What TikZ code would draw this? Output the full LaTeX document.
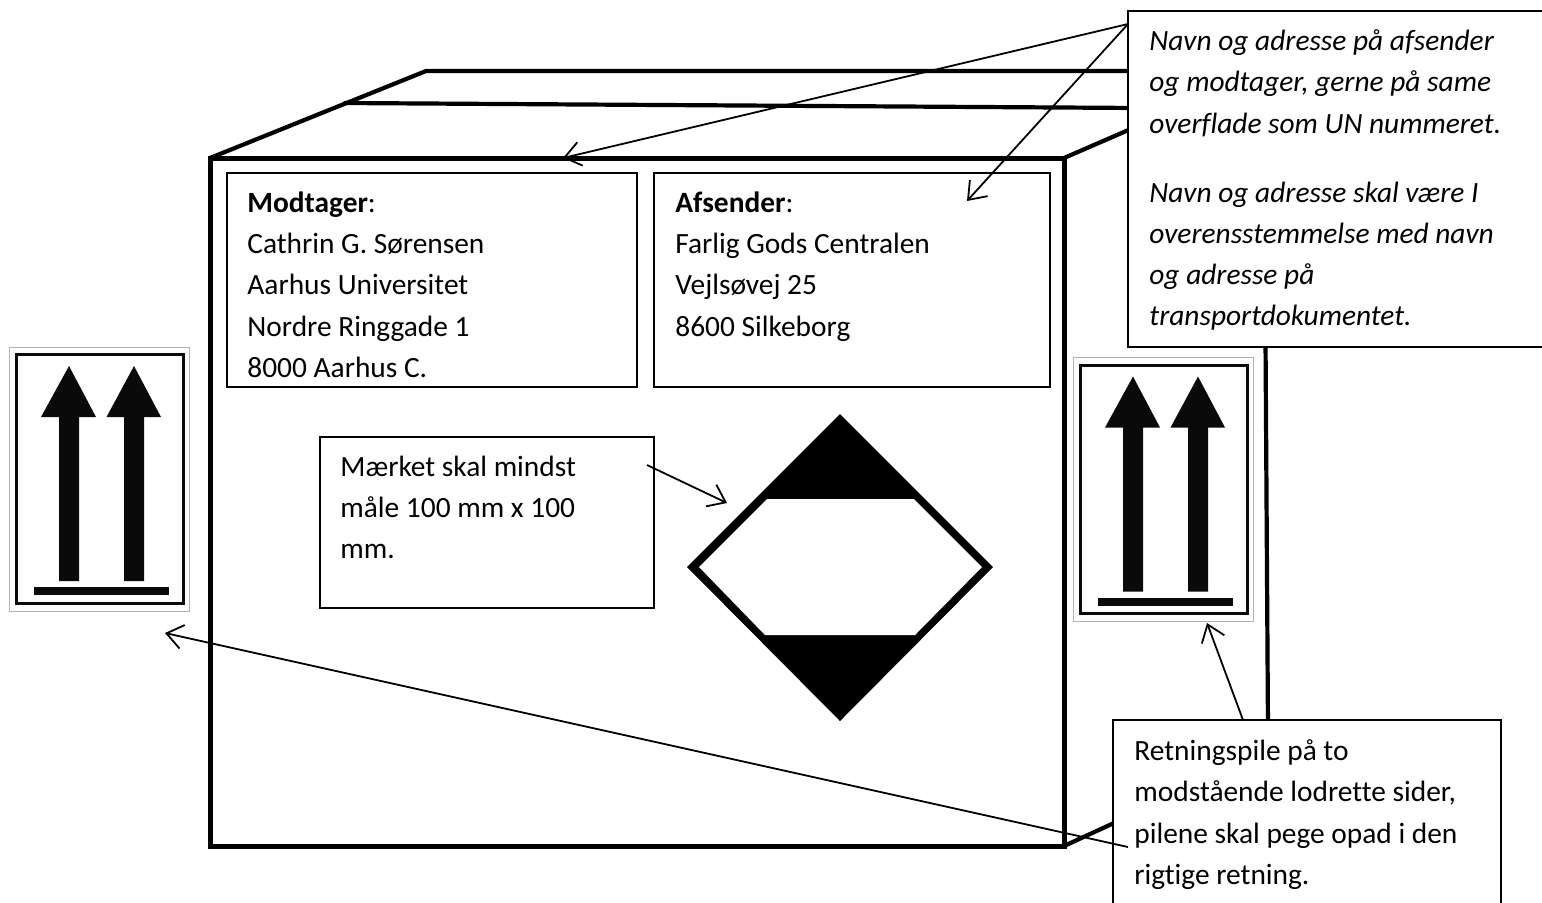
\documentclass[tikz,border=0pt]{standalone}
\usepackage{fontspec}
\setmainfont[Ligatures=NoCommon]{Carlito}
\usetikzlibrary{arrows.meta,fit}
\definecolor{labelink}{HTML}{0A0A0A}
\tikzset{
  x=0.5pt,y=-0.5pt,
  edge3/.style={line width=2.1pt,line cap=round,line join=miter},
  edge5/.style={line width=2.5pt,line join=miter},
  txtbox/.style={draw=black,line width=1pt,fill=white,inner sep=0pt},
  words/.style={anchor=north west,inner sep=0pt,align=left,font=\fontsize{14.7}{20.6}\selectfont},
  pointer/.style={line width=0.9pt,-{Straight Barb[length=8pt,width=12pt,line width=0.9pt]}},
  inkfill/.style={fill=labelink,draw=none},
  updown/.pic={
    \path[draw=black!30,line width=0.5pt,fill=white] (0,0) rectangle (179.5,264);
    \path[draw=labelink,line width=1.5pt] (6.5,7.5) rectangle (173.5,256);
    \path[inkfill] (49.5,234) -- (49.5,70) -- (31.5,70) -- (59.5,19) -- (86.5,70) -- (69.5,70) -- (69.5,234) -- cycle;
    \path[inkfill] (114.5,234) -- (114.5,70) -- (97,70) -- (124.5,19) -- (151.5,70) -- (134.5,70) -- (134.5,234) -- cycle;
    \path[inkfill] (24.5,240) rectangle (159.5,248);
  },
}
\begin{document}
\begin{tikzpicture}
\useasboundingbox (0,0) rectangle (1542,902);
\clip (0,0) rectangle (1542,902);
% carton
\coordinate (ftl) at (210,158);
\coordinate (ftr) at (1064,158);
\coordinate (fbr) at (1064,846);
\coordinate (fbl) at (210,846);
\coordinate (btl) at (426,71);
\coordinate (btr) at (1140,71);
\coordinate (tapeL) at (345,103);
\coordinate (tapeR) at (1140,108);
\coordinate (rtop) at (1140,125);
\coordinate (rbot) at (1140,811);
\coordinate (bu) at (1265.5,340);
\coordinate (bd) at (1268,730);
\draw[edge3] (ftl) -- (btl) -- (btr);
\draw[edge3] (tapeL) -- (tapeR);
\draw[edge3] (ftr) -- (rtop);
\draw[edge3] (fbr) -- (rbot);
\draw[edge3,line cap=butt] (bu) -- (bd);
\draw[edge5] (ftl) -- (ftr) -- (fbr) -- (fbl) -- cycle;
% boxes
\node[txtbox,fit={(227,173)(637,387)}] (modbox) {};
\node[txtbox,fit={(654,173)(1050,387)}] (afsbox) {};
\node[txtbox,fit={(320,437)(654,608)}] (maerkbox) {};
\node[txtbox,fit={(1128,11)(1550,347)}] (navnbox) {};
\node[txtbox,fit={(1113,720)(1501,920)}] (retnbox) {};
\node[words] (modtxt) at (247,191.5) {\textbf{Modtager}:\\Cathrin G. Sørensen\\Aarhus Universitet\\Nordre Ringgade 1\\8000 Aarhus C.};
\node[words] (afstxt) at (675,191.5) {\textbf{Afsender}:\\Farlig Gods Centralen\\Vejlsøvej 25\\8600 Silkeborg};
\node[words] (maerktxt) at (340,455.5) {Mærket skal mindst\\måle 100 mm x 100\\mm.};
\node[words,font=\fontsize{14.7}{20.6}\selectfont\itshape] (navntxt) at (1149,29.5) {Navn og adresse på afsender\\og modtager, gerne på same\\overflade som UN nummeret.\\[14pt]Navn og adresse skal være I\\overensstemmelse med navn\\og adresse på\\transportdokumentet.};
\node[words] (retntxt) at (1134,739.5) {Retningspile på to\\modstående lodrette sider,\\pilene skal pege opad i den\\rigtige retning.};
% hazard diamond
\path[fill=black] (840,414) -- (993,567) -- (840,721) -- (687,567) -- cycle;
\path[fill=white] (767,499) -- (914,499) -- (982,567) -- (915,635) -- (765,635) -- (699,567) -- cycle;
\node[inner sep=0pt,fit={(687,414)(993,721)}] (mark) {};
% orientation labels
\pic (leftlabel) at (9.5,347) {updown};
\pic (rightlabel) at (1073.5,357.5) {updown};
% pointers
\coordinate (a1s) at (1128,24);
\coordinate (a1e) at (563,158);
\coordinate (a2e) at (967,201);
\coordinate (a3s) at (647,465);
\coordinate (a3e) at (727,503);
\coordinate (a4s) at (1243,720);
\coordinate (a4e) at (1207,623);
\coordinate (a5s) at (1128,847);
\coordinate (a5e) at (165,633);
\draw[pointer] (a1s) -- (a1e);
\draw[pointer] (a1s) -- (a2e);
\draw[pointer] (a3s) -- (a3e);
\draw[pointer] (a4s) -- (a4e);
\draw[pointer] (a5s) -- (a5e);
\end{tikzpicture}
\end{document}
